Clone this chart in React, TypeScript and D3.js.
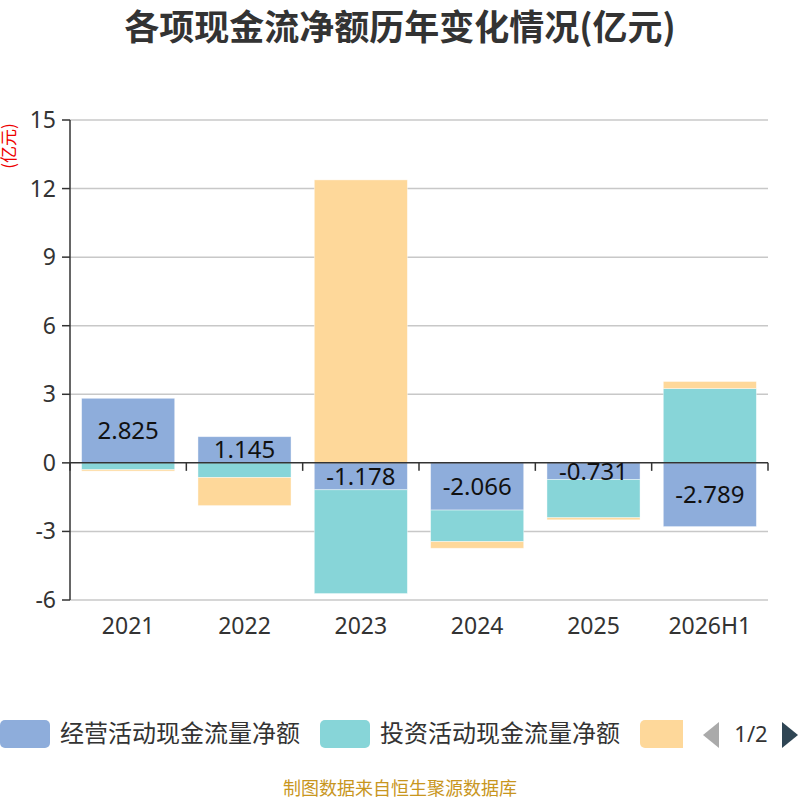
import * as d3 from 'd3';

const categories = ['2021', '2022', '2023', '2024', '2025', '2026H1'];
const seriesNames = ['经营活动现金流量净额', '投资活动现金流量净额', '筹资活动现金流量净额'];
const operating = [2.825, 1.145, -1.178, -2.066, -0.731, -2.789];
const investing = [-0.3, -0.64, -4.54, -1.38, -1.67, 3.25];
const financing = [-0.06, -1.23, 12.38, -0.29, -0.09, 0.31];
const yTicks = [-6, -3, 0, 3, 6, 9, 12, 15];
const colors = ['#8eaddb', '#87d5d8', '#fed89a'];

const W = 800;
const H = 800;
const margin = { left: 70, right: 32, top: 120, bottom: 200 };
const font = '"Noto Sans", "Noto Sans CJK SC", sans-serif';
const cjk = '"Noto Sans CJK SC", "Noto Sans", sans-serif';

export default function App() {
    const x = d3.scaleBand<string>()
        .domain(categories)
        .range([margin.left, W - margin.right])
        .paddingInner(0.2)
        .paddingOuter(0.1);
    const y = d3.scaleLinear().domain([-6, 15]).range([H - margin.bottom, margin.top]);

    const values = [operating, investing, financing];
    // stack positive and negative values separately, like echarts
    const rects: { key: string; x: number; y0: number; y1: number; color: string }[] = [];
    categories.forEach((c, i) => {
        let pos = 0;
        let neg = 0;
        values.forEach((arr, s) => {
            const v = arr[i];
            let a: number, b: number;
            if (v >= 0) { a = pos; b = pos + v; pos = b; }
            else { a = neg; b = neg + v; neg = b; }
            rects.push({ key: `${c}-${s}`, x: x(c)!, y0: y(Math.max(a, b)), y1: y(Math.min(a, b)), color: colors[s] });
        });
    });

    const step = x.step();
    const boundaries = d3.range(categories.length + 1).map(i => margin.left + i * step);

    return (
        <div style={{ position: 'absolute', left: 0, top: 0 }}>
            <svg width={W} height={H} style={{ display: 'block', background: '#fff' }}>
                <text x={400} y={40} textAnchor="middle" fontFamily={cjk} fontWeight="bold" fontSize={35} fill="#333">
                    各项现金流净额历年变化情况(亿元)
                </text>
                <text transform="translate(15,146) rotate(-90)" textAnchor="middle" fontFamily={cjk} fontSize={17} fill="#e00">
                    (亿元)
                </text>

                {yTicks.map(t => (
                    <g key={t}>
                        {t !== 0 && (
                            <line x1={margin.left} x2={W - margin.right} y1={y(t)} y2={y(t)} stroke="#c8c8c8" strokeWidth={1.5} />
                        )}
                        <line x1={margin.left - 8} x2={margin.left} y1={y(t)} y2={y(t)} stroke="#333" strokeWidth={1.5} />
                        <text x={margin.left - 14} y={y(t)} dy="0.35em" textAnchor="end" fontFamily={font} fontSize={23} fill="#333">
                            {t}
                        </text>
                    </g>
                ))}

                {rects.map(r => (
                    <rect key={r.key} x={r.x} y={r.y0} width={x.bandwidth()} height={Math.max(0.5, r.y1 - r.y0)}
                        fill={r.color} stroke="#fff" strokeOpacity={0.5} strokeWidth={0.8} />
                ))}

                <line x1={margin.left} x2={margin.left} y1={y(15)} y2={y(-6)} stroke="#333" strokeWidth={1.5} />
                <line x1={margin.left} x2={W - margin.right} y1={y(0)} y2={y(0)} stroke="#333" strokeWidth={1.5} />
                {boundaries.map((b, i) => (
                    <line key={i} x1={b} x2={b} y1={y(0)} y2={y(0) + 8} stroke="#333" strokeWidth={1.5} />
                ))}

                {categories.map((c, i) => {
                    const v = operating[i];
                    const mid = (y(0) + y(v)) / 2;
                    return (
                        <text key={c} x={x(c)! + x.bandwidth() / 2} y={mid} dy="0.35em" textAnchor="middle"
                            fontFamily={font} fontSize={24} fill="#111">
                            {v.toFixed(3)}
                        </text>
                    );
                })}

                {categories.map(c => (
                    <text key={c} x={x(c)! + x.bandwidth() / 2} y={y(-6) + 26} dy="0.35em" textAnchor="middle"
                        fontFamily={font} fontSize={23} fill="#333">
                        {c}
                    </text>
                ))}

                <defs>
                    <clipPath id="legendClip">
                        <rect x={0} y={700} width={683} height={70} />
                    </clipPath>
                </defs>
                <g clipPath="url(#legendClip)">
                    {seriesNames.map((name, i) => {
                        const lx = i * 320;
                        return (
                            <g key={name}>
                                <rect x={lx} y={720} width={50} height={28} rx={5} fill={colors[i]} />
                                <text x={lx + 60} y={734} dy="0.35em" fontFamily={cjk} fontSize={24} fill="#333">{name}</text>
                            </g>
                        );
                    })}
                </g>
                <path d="M719,722 L703,735 L719,748 Z" fill="#aaa" />
                <text x={751} y={734} dy="0.35em" textAnchor="middle" fontFamily={font} fontSize={22} fill="#333">1/2</text>
                <path d="M782,722 L798,735 L782,748 Z" fill="#2f4554" />

                <text x={400} y={795} textAnchor="middle" fontFamily={cjk} fontSize={18} fill="#c8961e">
                    制图数据来自恒生聚源数据库
                </text>
            </svg>
        </div>
    );
}
